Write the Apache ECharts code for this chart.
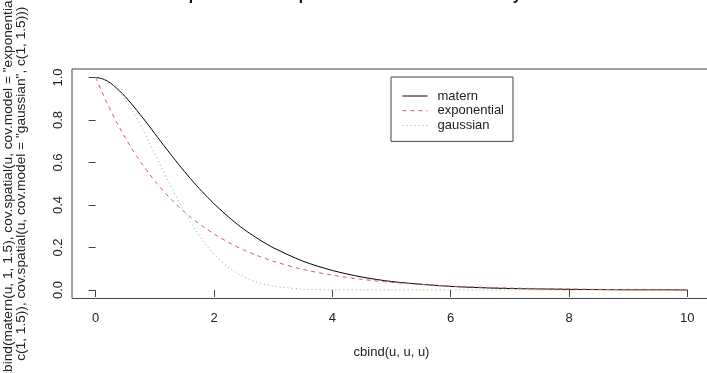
<!DOCTYPE html>
<html>
<head>
<meta charset="utf-8">
<script src="https://cdn.jsdelivr.net/npm/echarts@6/dist/echarts.min.js"></script>
<style>
  html, body { margin: 0; padding: 0; background: #fff; }
  #chart { width: 707px; height: 373px; }
</style>
</head>
<body>
<div id="chart"></div>
<script>
// distances (x values shared by all three curves)
const u = [0, 0.1, 0.2, 0.3, 0.4, 0.5, 0.6, 0.7, 0.8, 0.9, 1.0, 1.1, 1.2, 1.3, 1.4, 1.5, 1.6, 1.7, 1.8, 1.9,
           2.0, 2.1, 2.2, 2.3, 2.4, 2.5, 2.6, 2.7, 2.8, 2.9, 3.0,
           3.5, 4.0, 4.5, 5.0, 5.5, 6.0, 6.5, 7.0, 7.5, 8.0, 8.5, 9.0, 9.5, 10.0];
// correlation values
const matern = [1.000, 0.995, 0.983, 0.963, 0.938, 0.910, 0.878, 0.844, 0.809, 0.773, 0.736, 0.699, 0.663, 0.627, 0.592, 0.558, 0.525, 0.493, 0.463, 0.434,
                0.406, 0.380, 0.355, 0.331, 0.308, 0.287, 0.267, 0.249, 0.231, 0.215, 0.199,
                0.136, 0.092, 0.061, 0.040, 0.027, 0.017, 0.011, 0.007, 0.005, 0.003, 0.002, 0.001, 0.001, 0.000];
const exponential = [1.000, 0.936, 0.875, 0.819, 0.766, 0.717, 0.670, 0.627, 0.587, 0.549, 0.513, 0.480, 0.449, 0.420, 0.393, 0.368, 0.344, 0.322, 0.301, 0.282,
                     0.264, 0.247, 0.231, 0.216, 0.202, 0.189, 0.177, 0.165, 0.155, 0.145, 0.135,
                     0.097, 0.070, 0.050, 0.036, 0.026, 0.018, 0.013, 0.009, 0.007, 0.005, 0.003, 0.002, 0.002, 0.001];
const gaussian = [1.000, 0.996, 0.982, 0.961, 0.931, 0.895, 0.852, 0.804, 0.753, 0.698, 0.641, 0.584, 0.527, 0.472, 0.419, 0.368, 0.321, 0.277, 0.237, 0.201,
                  0.169, 0.141, 0.116, 0.095, 0.077, 0.062, 0.050, 0.039, 0.031, 0.024, 0.018,
                  0.004, 0.001, 0.000, 0.000, 0.000, 0.000, 0.000, 0.000, 0.000, 0.000, 0.000, 0.000, 0.000, 0.000];
const seriesNames = ['matern', 'exponential', 'gaussian'];
const xTicks = [0, 2, 4, 6, 8, 10];
const yTicks = [0, 0.2, 0.4, 0.6, 0.8, 1.0];
const yTickLabels = ['0.0', '0.2', '0.4', '0.6', '0.8', '1.0'];
const titleText = 'Comparison of all spatial correlation functions by model';
const xTitle = 'cbind(u, u, u)';
const yTitleLines = [
  'cbind(matern(u, 1, 1.5), cov.spatial(u, cov.model = "exponential",',
  'c(1, 1.5)), cov.spatial(u, cov.model = "gaussian", c(1, 1.5)))'
];

const FONT = '"Liberation Sans", Arial, Helvetica, sans-serif';
const AXIS_COLOR = '#444';
const TEXT_COLOR = '#222';

const chart = echarts.init(document.getElementById('chart'), null, { renderer: 'canvas' });

const pairs = arr => u.map((x, i) => [x, arr[i]]);

const option = {
  backgroundColor: '#fff',
  animation: false,
  textStyle: { fontFamily: FONT },
  title: {
    text: titleText,
    left: 154,
    top: -12,
    padding: 0,
    textStyle: { fontFamily: FONT, fontSize: 15.6, fontWeight: 'bold', color: '#111' }
  },
  grid: {
    left: 72, top: 69, width: 639, height: 229.5,
    containLabel: false,
    outerBoundsMode: 'none',
    show: true, borderColor: AXIS_COLOR, borderWidth: 1, backgroundColor: 'transparent'
  },
  legend: {
    orient: 'vertical',
    left: 391, top: 77,
    padding: [12, 9, 9, 11],
    itemWidth: 25, itemHeight: 14, itemGap: 0.7,
    itemStyle: { opacity: 0 },
    lineStyle: { width: 1 },
    borderColor: AXIS_COLOR, borderWidth: 1, backgroundColor: '#fff',
    textStyle: { fontFamily: FONT, fontSize: 13, color: TEXT_COLOR, lineHeight: 14, padding: [0, 0, 0, 5] },
    data: seriesNames
  },
  xAxis: {
    type: 'value',
    min: -0.4, max: 10.4,
    splitLine: { show: false },
    axisLine: { show: false },
    axisTick: { show: true, customValues: xTicks, length: 7, lineStyle: { color: AXIS_COLOR } },
    axisLabel: { customValues: xTicks, margin: 13, fontSize: 13, fontFamily: FONT, color: TEXT_COLOR },
    name: xTitle,
    nameLocation: 'middle',
    nameGap: 47,
    nameTextStyle: { fontFamily: FONT, fontSize: 13, color: TEXT_COLOR }
  },
  yAxis: {
    type: 'value',
    min: -0.04, max: 1.04,
    splitLine: { show: false },
    axisLine: { show: false },
    axisTick: { show: true, customValues: yTicks, length: 7, lineStyle: { color: AXIS_COLOR } },
    axisLabel: {
      customValues: yTicks, margin: 7, rotate: 90, fontSize: 13, fontFamily: FONT, color: TEXT_COLOR,
      formatter: v => yTickLabels[yTicks.findIndex(t => Math.abs(t - v) < 1e-9)]
    },
    name: yTitleLines.join('\n'),
    nameLocation: 'middle',
    nameRotate: 90,
    nameGap: 44,
    nameTextStyle: { fontFamily: FONT, fontSize: 13.7, color: TEXT_COLOR, lineHeight: 13, align: 'center' }
  },
  series: [
    {
      name: seriesNames[0], type: 'line', data: pairs(matern), symbol: 'none', smooth: 0.3,
      lineStyle: { color: '#000', width: 1, type: 'solid' }, itemStyle: { color: '#000' }
    },
    {
      name: seriesNames[1], type: 'line', data: pairs(exponential), symbol: 'none', smooth: 0.3,
      lineStyle: { color: '#DF536B', width: 1, type: [4, 4] }, itemStyle: { color: '#DF536B' }
    },
    {
      name: seriesNames[2], type: 'line', data: pairs(gaussian), symbol: 'none', smooth: 0.3,
      lineStyle: { color: '#61D04F', width: 1, type: [1, 3] }, itemStyle: { color: '#61D04F' }
    }
  ]
};
chart.setOption(option);
</script>
</body>
</html>
